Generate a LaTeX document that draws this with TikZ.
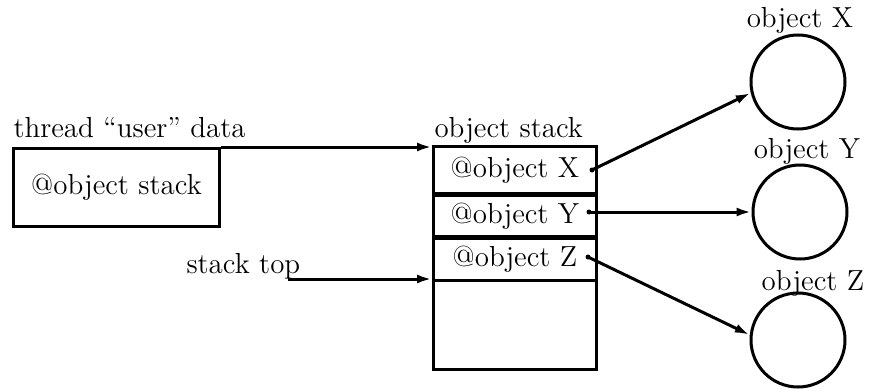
\documentclass[tikz,border=0pt]{standalone}
\usetikzlibrary{arrows.meta,calc}
\begin{document}
\begin{tikzpicture}[x=0.5pt,y=-0.5pt,
  line width=1.5pt,
  txt/.style={font=\fontsize{14.5}{17}\selectfont, inner sep=0pt},
  cell/.style={draw, rectangle, anchor=north west, minimum width=81.5pt, inner sep=0pt, font=\fontsize{14.5}{17}\selectfont},
  obj/.style={draw, circle, minimum size=47pt, inner sep=0pt},
  dotn/.style={circle, fill, inner sep=0pt, minimum size=2.5pt},
  arr/.style={-{Latex[length=7.5pt,width=4.5pt]}}]
\useasboundingbox (0,0) rectangle (869,391);
% thread user data box
\node[draw, rectangle, anchor=north west, minimum width=103pt, minimum height=39pt, inner sep=0pt,
      font=\fontsize{14.5}{17}\selectfont] (ubox) at (12,147) {@object stack};
\node[txt, anchor=base west] (ulabel) at (12,137) {thread \textquotedblleft user\textquotedblright\ data};
% object stack
\node[cell, minimum height=23.5pt] (sx) at (432,145) {@object X};
\node[cell, minimum height=20.5pt] (sy) at (432,194) {@object Y};
\node[cell, minimum height=21pt] (sz) at (432,237) {@object Z};
\node[cell, minimum height=44.5pt] (se) at (432,279) {};
\node[txt, anchor=base west] (slabel) at (433,137) {object stack};
% stack top
\node[txt, anchor=base west] (stop) at (185,273) {stack top};
\coordinate (stopstart) at (288,279);
% objects
\node[obj] (cx) at (798,82) {};
\node[obj] (cy) at (800,212) {};
\node[obj] (cz) at (798,340) {};
\node[txt, anchor=base] (lx) at (800,27) {object X};
\node[txt, anchor=base] (ly) at (807,158) {object Y};
\node[txt, anchor=base] (lz) at (813,290) {object Z};
% dots
\node[dotn] (dx) at (592,170) {};
\node[dotn] (dy) at (589,212) {};
\node[dotn] (dz) at (588,257) {};
% connectors
\draw[arr] (ubox.north east) -- (ubox.north east -| sx.west);
\draw[arr] (stopstart) -- (se.north west);
\draw[arr] (dx.center) -- (cx.193);
\draw[arr] (dy.center) -- (cy.west);
\draw[arr] (dz.center) -- (cz.174);
\end{tikzpicture}
\end{document}
